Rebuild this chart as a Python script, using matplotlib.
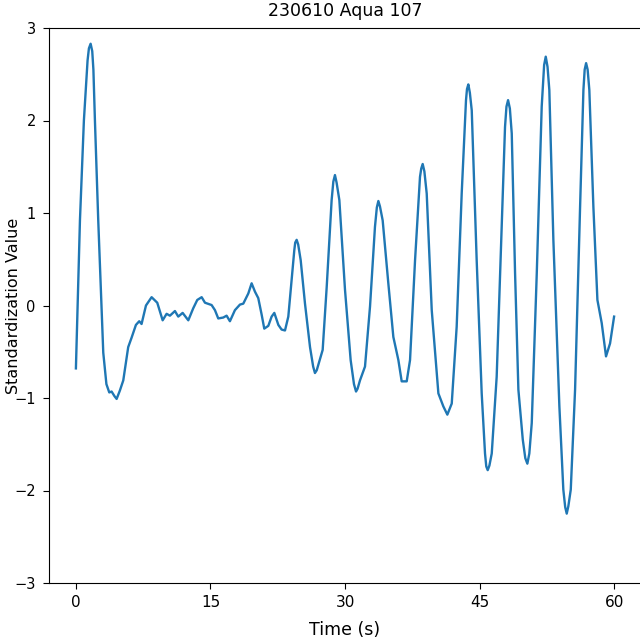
import numpy as np
import matplotlib
matplotlib.use("Agg")
import matplotlib.pyplot as plt

# values (time in s, standardized value)
time_s = [0.0, 0.45, 0.89, 1.3, 1.45, 1.64, 1.82, 1.95, 2.12, 2.49,
          3.05, 3.4, 3.72, 3.98, 4.3, 4.54, 4.9, 5.28, 5.83, 6.2,
          6.69, 7.06, 7.32, 7.81, 8.44, 9.07, 9.67, 10.11, 10.48, 11.04,
          11.41, 11.9, 12.53, 13.08, 13.53, 14.02, 14.39, 15.13, 15.5, 15.87,
          16.43, 16.8, 17.17, 17.73, 18.29, 18.66, 19.22, 19.59, 19.96, 20.33,
          20.71, 21.0, 21.45, 21.82, 22.12, 22.57, 22.93, 23.31, 23.68, 24.05,
          24.35, 24.45, 24.61, 24.78, 25.06, 25.54, 26.1, 26.45, 26.65, 26.85,
          27.03, 27.51, 27.96, 28.51, 28.7, 28.88, 29.06, 29.37, 30.0, 30.63,
          31.0, 31.23, 31.4, 31.67, 32.23, 32.79, 33.34, 33.55, 33.72, 33.9,
          34.2, 34.83, 35.39, 35.95, 36.32, 36.88, 37.25, 37.81, 38.36, 38.5,
          38.66, 38.85, 39.11, 39.67, 40.41, 40.96, 41.41, 41.9, 42.45, 43.01,
          43.49, 43.6, 43.75, 43.92, 44.13, 44.68, 45.24, 45.61, 45.75, 45.91,
          46.1, 46.36, 46.91, 47.47, 47.84, 48.0, 48.18, 48.38, 48.59, 48.96,
          49.33, 49.82, 50.1, 50.33, 50.55, 50.82, 51.38, 51.93, 52.2, 52.38,
          52.58, 52.78, 53.23, 53.9, 54.34, 54.55, 54.72, 54.9, 55.17, 55.65,
          56.21, 56.58, 56.72, 56.88, 57.05, 57.24, 57.69, 58.14, 58.62, 59.1,
          59.55, 60.0]
std_value = [-0.68, 0.92, 2.0, 2.65, 2.78, 2.83, 2.75, 2.55, 2.0, 0.92,
             -0.51, -0.85, -0.94, -0.93, -0.98, -1.01, -0.92, -0.81, -0.45, -0.35,
             -0.21, -0.17, -0.2, 0.0, 0.09, 0.03, -0.16, -0.09, -0.11, -0.06,
             -0.12, -0.08, -0.16, -0.03, 0.06, 0.09, 0.03, 0.005, -0.05, -0.14,
             -0.13, -0.11, -0.17, -0.05, 0.01, 0.02, 0.13, 0.24, 0.15, 0.08,
             -0.1, -0.25, -0.22, -0.12, -0.08, -0.21, -0.26, -0.27, -0.12, 0.28,
             0.6, 0.68, 0.71, 0.66, 0.49, 0.02, -0.45, -0.66, -0.73, -0.7,
             -0.64, -0.48, 0.2, 1.14, 1.34, 1.41, 1.33, 1.14, 0.17, -0.59,
             -0.85, -0.93, -0.9, -0.81, -0.66, -0.01, 0.85, 1.06, 1.13, 1.07,
             0.92, 0.24, -0.34, -0.59, -0.82, -0.82, -0.59, 0.49, 1.39, 1.48,
             1.53, 1.45, 1.21, -0.05, -0.95, -1.09, -1.18, -1.06, -0.23, 1.21,
             2.22, 2.34, 2.39, 2.3, 2.11, 0.49, -0.95, -1.6, -1.74, -1.78,
             -1.73, -1.6, -0.77, 0.85, 1.93, 2.15, 2.22, 2.13, 1.86, 0.35,
             -0.91, -1.45, -1.65, -1.71, -1.6, -1.27, 0.35, 2.15, 2.6, 2.69,
             2.58, 2.33, 0.71, -1.09, -1.99, -2.18, -2.25, -2.17, -1.99, -0.91,
             1.07, 2.33, 2.55, 2.62, 2.55, 2.33, 1.07, 0.06, -0.19, -0.55,
             -0.41, -0.12]
x_ticks = [0, 15, 30, 45, 60]

fig = plt.figure(figsize=(6.4, 6.4), dpi=100)
ax = fig.add_axes([49 / 640, 57 / 640, 592 / 640, 555 / 640])
ax.plot(time_s, std_value, color="#1f77b4", linewidth=1.7)
ax.set_ylim(-3, 3)
ax.set_xticks(x_ticks)
ax.tick_params(axis="x", labelsize=11, length=4.3, pad=4.5)
ax.tick_params(axis="y", labelsize=10.5, length=4.0, pad=5.5)

ax.set_title("230610 Aqua 107", fontsize=12.5, y=1.022, pad=0)
ax.set_xlabel("Time (s)", fontsize=12.5)
ax.xaxis.set_label_coords(0.5, -0.068)
ax.set_ylabel("Standardization Value", fontsize=11.5)
ax.yaxis.set_label_coords(-0.048, 0.5)

fig.savefig("out.png", dpi=100)
